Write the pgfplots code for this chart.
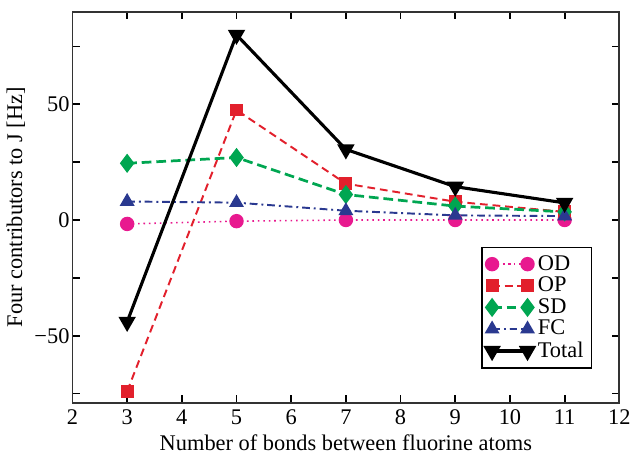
\documentclass[border=0pt]{standalone}
\usepackage{pgfplots}
\pgfplotsset{compat=1.18}
\usepackage{fontspec}
\setmainfont{Liberation Serif}
\definecolor{cOD}{HTML}{E8198F}
\definecolor{cOP}{HTML}{E2202C}
\definecolor{cSD}{HTML}{00A651}
\definecolor{cFC}{HTML}{2A3990}
\begin{document}
\begin{tikzpicture}
\begin{axis}[
  name=ax,
  scale only axis,
  width=281pt, height=201pt,
  xmin=2, xmax=12, ymin=-79, ymax=90,
  xtick={2,3,...,12},
  ytick={-75,-50,-25,0,25,50,75},
  yticklabels={,−50,,0,,50,},
  tick align=inside,
  major tick length=4pt,
  tick style={line width=0.9pt, black},
  axis line style={line width=0.9pt, black!80},
  /pgf/number format/assume math mode=true,
  tick label style={font=\fontsize{11.5}{13}\selectfont},
  yticklabel style={xshift=2pt},
  xlabel={Number of bonds between fluorine atoms},
  ylabel={Four contributors to J [Hz]},
  label style={font=\fontsize{11.5}{13}\selectfont},
  xlabel style={yshift=2pt},
  ylabel style={yshift=-2pt},
  legend cell align=left,
  legend style={at={(1,0)}, anchor=south east, xshift=-14pt, yshift=17.5pt,
    draw=black, line width=0.8pt, font=\fontsize{11.5}{12}\selectfont,
    row sep=-2pt, inner sep=2pt},
  legend image code/.code={\draw[mark repeat=2,mark phase=1] plot coordinates {(0cm,0cm)(0.32cm,0cm)(0.64cm,0cm)};},
]
\addplot[cOD, dotted, line width=0.8pt, mark=*, mark size=3.3pt, mark options={solid}] coordinates {(3,-1.7)(5,-0.5)(7,0)(9,0)(11,0)};
\addlegendentry{OD}
\addplot[cOP, dash pattern=on 4pt off 2.5pt, line width=1pt, mark=square*, mark size=2.8pt, mark options={solid}] coordinates {(3,-74)(5,47.5)(7,15.7)(9,7.9)(11,3.5)};
\addlegendentry{OP}
\addplot[cSD, dash pattern=on 5pt off 2.5pt, line width=1.4pt, mark=diamond*, mark size=3.8pt, mark options={solid}] coordinates {(3,24.5)(5,27)(7,11)(9,6)(11,3.5)};
\addlegendentry{SD}
\addplot[cFC, dash pattern=on 4pt off 2pt on 1pt off 2pt, line width=1pt, mark=triangle*, mark size=3.4pt, mark options={solid}] coordinates {(3,8)(5,7.5)(7,4)(9,2)(11,1.7)};
\addlegendentry{FC}
\addplot[black, line width=1.6pt, mark=triangle*, mark size=3.6pt, mark options={solid, rotate=180}] coordinates {(3,-44)(5,80)(7,30.5)(9,14.4)(11,7.4)};
\addlegendentry{Total}
\end{axis}
\path ([yshift=6pt]ax.north west) ([xshift=4.5pt]ax.east);
\end{tikzpicture}
\end{document}
